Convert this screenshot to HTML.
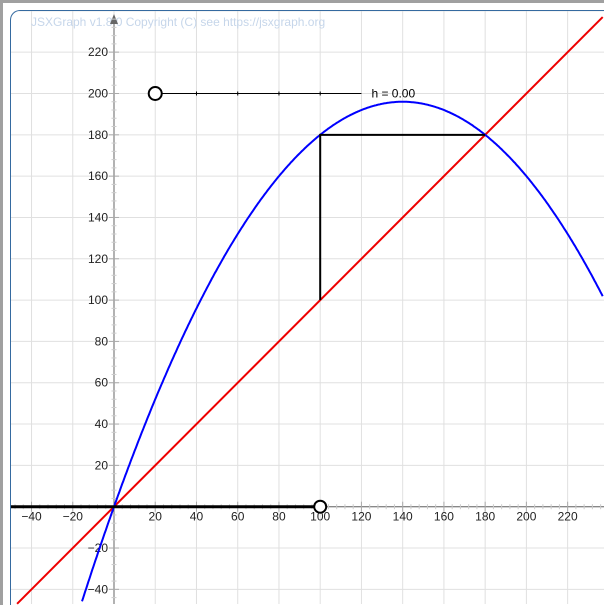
<!DOCTYPE html>
<html><head><meta charset="utf-8"><style>
html,body{margin:0;padding:0}
body{background:#fff;width:604px;height:605px;overflow:hidden;position:relative;font-family:"Liberation Sans",sans-serif}
#wrap{position:absolute;left:0;top:0;width:604px;height:605px;overflow:hidden}
#frame{position:absolute;left:0;top:0;width:604px;height:605px;border-left:3px solid #a0a0a0;border-top:3px solid #a0a0a0;box-sizing:border-box}
#board{position:absolute;left:10px;top:10px;width:594px;height:595px;border:1px solid #356aa0;border-right:none;border-bottom:none;border-radius:10px 0 0 0;box-sizing:border-box}
svg{position:absolute;left:0;top:0;overflow:hidden}
</style></head><body>
<div id="wrap">
<div id="frame"></div>
<div id="board"></div>
<svg id="chart" width="604" height="605"></svg>
</div>
<script>
const xTicks=[-40,-20,20,40,60,80,100,120,140,160,180,200,220];
const yTicks=[-40,-20,20,40,60,80,100,120,140,160,180,200,220];
const parabolaA=0.01, parabolaRoot=280;
const cobwebX=[100,100,180];
const cobwebY=[100,180,180];
const sliderStart=20, sliderEnd=120, sliderY=200, sliderValue=0;
const gliderX=100;
const X=v=>114+v*2.062, Y=v=>506.7-v*2.066;
const xMin=-47, xMax=237, yMin=-47;
const svg=document.getElementById('chart');
const NS='http://www.w3.org/2000/svg';
function el(t,a,p){const e=document.createElementNS(NS,t);for(const k in a)e.setAttribute(k,a[k]);(p||svg).appendChild(e);return e;}
const clip=el('clipPath',{id:'c'});el('path',{d:'M11,21 Q11,11 21,11 L604,11 L604,605 L11,605 Z'},clip);
const g=el('g',{'clip-path':'url(#c)'});


for(let v=-40;v<=220;v+=20){
 const l=el('line',{x1:X(v),x2:X(v),y1:11,y2:604,stroke:'#e0e0e0','stroke-width':1},g);
 
 
}
for(let v=-40;v<=240;v+=20){
 const m=el('line',{y1:Y(v),y2:Y(v),x1:11,x2:604,stroke:'#e0e0e0','stroke-width':1},g);
 
 
}
const wm=el('text',{x:31,y:26,fill:'#c6d6ea','font-size':12},g);wm.textContent='JSXGraph v1.8.0 Copyright (C) see https://jsxgraph.org';


const ya=el('line',{x1:X(0),x2:X(0),y1:604,y2:22,stroke:'#666','stroke-width':1},g);


el('path',{d:`M${X(0)-4},${24} L${X(0)},${14} L${X(0)+4},${24}Z`,fill:'#666'},g);
const xa=el('line',{x1:11,x2:604,y1:Y(0),y2:Y(0),stroke:'#666','stroke-width':1},g);


for(let v=-48;v<=236;v+=4){if(v===0)continue;const big=v%20===0;
 el('line',{x1:X(v),x2:X(v),y1:Y(0)-(big?5:2.5),y2:Y(0)+(big?5:2.5),stroke:big?'#aaa':'#ccc'},g);
 if(v>=-44)el('line',{y1:Y(v),y2:Y(v),x1:X(0)-(big?5:2.5),x2:X(0)+(big?5:2.5),stroke:big?'#aaa':'#ccc'},g);}
xTicks.forEach(v=>{const t=el('text',{x:X(v),y:Y(0)+14,'font-size':12,'text-anchor':'middle',fill:'#222'},g);t.textContent=v<0?'\u2212'+(-v):v;
 
 });
yTicks.forEach(v=>{const t=el('text',{x:X(0)-6,y:Y(v)+4,'font-size':12,'text-anchor':'end',fill:'#222'},g);t.textContent=v<0?'\u2212'+(-v):v;
 
 });
const red=el('line',{x1:X(xMin),y1:Y(xMin),x2:X(xMax),y2:Y(xMax),stroke:'#e00','stroke-width':2},g);


let d='';
for(let x=-20;x<=xMax;x+=0.5){const y=parabolaA*x*(parabolaRoot-x);if(y<yMin)continue;d+=(d?'L':'M')+X(x).toFixed(1)+','+Y(y).toFixed(1);}
const bl=el('path',{d,fill:'none',stroke:'#00f','stroke-width':2},g);


let cd='';cobwebX.forEach((x,i)=>{cd+=(i?'L':'M')+X(x)+','+Y(cobwebY[i]);});
const cw=el('path',{d:cd,fill:'none',stroke:'#000','stroke-width':2},g);


const gs=el('line',{x1:11,x2:X(gliderX),y1:Y(0),y2:Y(0),stroke:'#000','stroke-width':3},g);


const gp=el('circle',{cx:X(gliderX),cy:Y(0),r:6,fill:'#fff',stroke:'#000','stroke-width':2},g);


const sl=el('line',{x1:X(sliderStart),x2:X(sliderEnd),y1:Y(sliderY),y2:Y(sliderY),stroke:'#000','stroke-width':1},g);


for(let v=sliderStart+20;v<sliderEnd;v+=20)el('line',{x1:X(v),x2:X(v),y1:Y(sliderY)-2,y2:Y(sliderY)+2,stroke:'#000'},g);
const sk=el('circle',{cx:X(sliderStart+sliderValue),cy:Y(sliderY),r:6.5,fill:'#fff',stroke:'#000','stroke-width':2},g);


const st=el('text',{x:X(sliderEnd)+10,y:Y(sliderY)+4,'font-size':12,fill:'#000'},g);st.textContent='h = '+sliderValue.toFixed(2);


</script>
</body></html>
